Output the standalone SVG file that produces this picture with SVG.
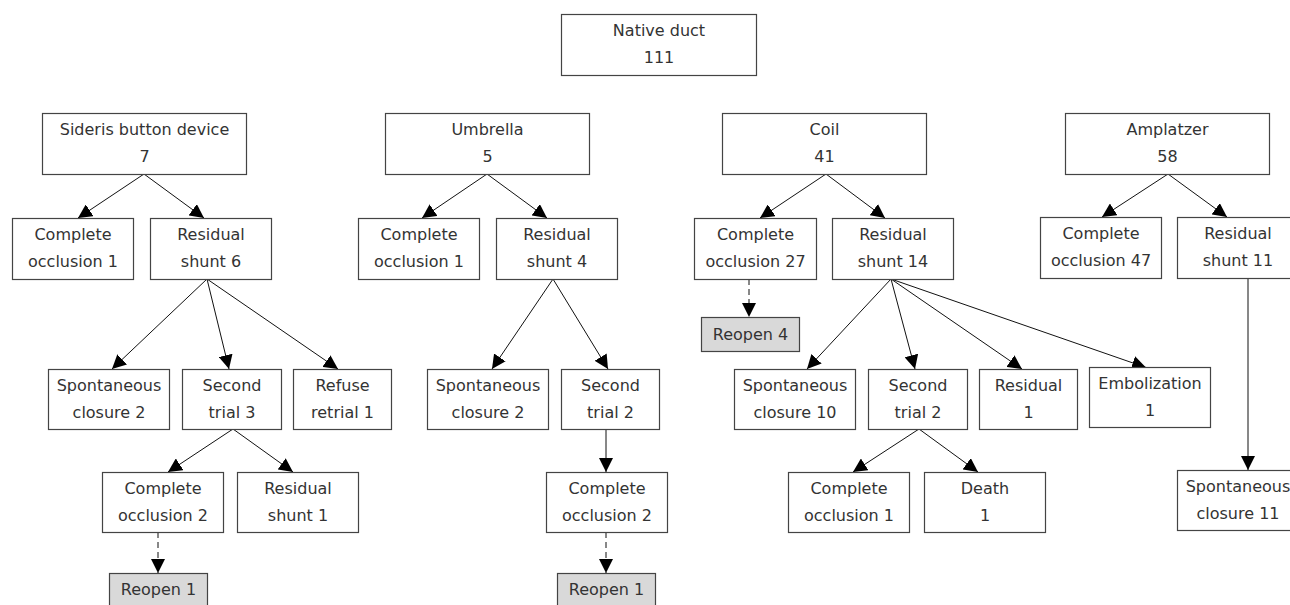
<svg xmlns="http://www.w3.org/2000/svg" width="1290" height="605" viewBox="0 0 1290 605">
<style>
.b{fill:#fff;stroke:#444;stroke-width:1.2}
.g{fill:#d9d9d9;stroke:#444;stroke-width:1.2}
text{font-family:"DejaVu Sans","Liberation Sans",sans-serif;font-size:16px;fill:#333;text-anchor:middle}
.c line{stroke:#111;stroke-width:1;marker-end:url(#ah)}
.c .d{stroke-dasharray:6,4}
</style>
<defs>
<marker id="ah" markerUnits="userSpaceOnUse" markerWidth="14" markerHeight="14" refX="13" refY="6.5" orient="auto" viewBox="0 0 13 13">
<path d="M0,0 L13,6.5 L0,13 z" fill="#000"/>
</marker>
</defs>
<rect width="1290" height="605" fill="#fff"/>
<g class="c">
<line x1="144" y1="174" x2="78" y2="218"/>
<line x1="144" y1="174" x2="204" y2="218"/>
<line x1="207" y1="279" x2="112" y2="369"/>
<line x1="207" y1="279" x2="229" y2="369"/>
<line x1="207" y1="279" x2="338" y2="369"/>
<line x1="233" y1="429" x2="168" y2="472"/>
<line x1="233" y1="429" x2="293" y2="472"/>
<line class="d" x1="158" y1="532" x2="158" y2="573"/>
<line x1="487" y1="174" x2="422" y2="218"/>
<line x1="487" y1="174" x2="547" y2="218"/>
<line x1="553" y1="279" x2="492" y2="369"/>
<line x1="553" y1="279" x2="608" y2="369"/>
<line x1="606" y1="429" x2="606" y2="472"/>
<line class="d" x1="606" y1="532" x2="606" y2="573"/>
<line x1="826" y1="174" x2="760" y2="218"/>
<line x1="826" y1="174" x2="885" y2="218"/>
<line class="d" x1="749" y1="279" x2="749" y2="317"/>
<line x1="891" y1="279" x2="807" y2="369"/>
<line x1="891" y1="279" x2="915" y2="369"/>
<line x1="891" y1="279" x2="1022" y2="369"/>
<line x1="891" y1="279" x2="1146" y2="367.5"/>
<line x1="919" y1="429" x2="853" y2="472"/>
<line x1="919" y1="429" x2="978" y2="472"/>
<line x1="1168" y1="174" x2="1102" y2="217"/>
<line x1="1168" y1="174" x2="1227" y2="217"/>
<line x1="1248" y1="278" x2="1248" y2="470"/>
</g>
<g id="native"><rect class="b" x="561.5" y="14.5" width="195" height="61"/><text x="659" y="36">Native duct</text><text x="659" y="62.5">111</text></g>
<g id="sideris"><rect class="b" x="42.5" y="113.5" width="204" height="61"/><text x="144.5" y="135">Sideris button device</text><text x="144.5" y="161.5">7</text></g>
<g id="umbrella"><rect class="b" x="385.5" y="113.5" width="204" height="61"/><text x="487.5" y="135">Umbrella</text><text x="487.5" y="161.5">5</text></g>
<g id="coil"><rect class="b" x="722.5" y="113.5" width="204" height="61"/><text x="824.5" y="135">Coil</text><text x="824.5" y="161.5">41</text></g>
<g id="amplatzer"><rect class="b" x="1065.5" y="113.5" width="204" height="61"/><text x="1167.5" y="135">Amplatzer</text><text x="1167.5" y="161.5">58</text></g>
<g id="s_co1"><rect class="b" x="12.5" y="218.5" width="121" height="61"/><text x="73" y="240">Complete</text><text x="73" y="266.5">occlusion 1</text></g>
<g id="s_rs6"><rect class="b" x="150.5" y="218.5" width="121" height="61"/><text x="211" y="240">Residual</text><text x="211" y="266.5">shunt 6</text></g>
<g id="u_co1"><rect class="b" x="358.5" y="218.5" width="121" height="61"/><text x="419" y="240">Complete</text><text x="419" y="266.5">occlusion 1</text></g>
<g id="u_rs4"><rect class="b" x="496.5" y="218.5" width="121" height="61"/><text x="557" y="240">Residual</text><text x="557" y="266.5">shunt 4</text></g>
<g id="c_co27"><rect class="b" x="694.5" y="218.5" width="122" height="61"/><text x="755.5" y="240">Complete</text><text x="755.5" y="266.5">occlusion 27</text></g>
<g id="c_rs14"><rect class="b" x="832.5" y="218.5" width="121" height="61"/><text x="893" y="240">Residual</text><text x="893" y="266.5">shunt 14</text></g>
<g id="a_co47"><rect class="b" x="1040.5" y="217.5" width="121" height="61"/><text x="1101" y="239">Complete</text><text x="1101" y="265.5">occlusion 47</text></g>
<g id="a_rs11"><rect class="b" x="1177.5" y="217.5" width="121" height="61"/><text x="1238" y="239">Residual</text><text x="1238" y="265.5">shunt 11</text></g>
<g id="c_reopen4"><rect class="g" x="701.5" y="317.5" width="98" height="34"/><text x="750.5" y="339.5">Reopen 4</text></g>
<g id="s_sp2"><rect class="b" x="48.5" y="369.5" width="121" height="60"/><text x="109" y="391">Spontaneous</text><text x="109" y="417.5">closure 2</text></g>
<g id="s_st3"><rect class="b" x="182.5" y="369.5" width="99" height="60"/><text x="232" y="391">Second</text><text x="232" y="417.5">trial 3</text></g>
<g id="s_rr1"><rect class="b" x="293.5" y="369.5" width="98" height="60"/><text x="342.5" y="391">Refuse</text><text x="342.5" y="417.5">retrial 1</text></g>
<g id="u_sp2"><rect class="b" x="427.5" y="369.5" width="121" height="60"/><text x="488" y="391">Spontaneous</text><text x="488" y="417.5">closure 2</text></g>
<g id="u_st2"><rect class="b" x="561.5" y="369.5" width="98" height="60"/><text x="610.5" y="391">Second</text><text x="610.5" y="417.5">trial 2</text></g>
<g id="c_sp10"><rect class="b" x="734.5" y="369.5" width="121" height="60"/><text x="795" y="391">Spontaneous</text><text x="795" y="417.5">closure 10</text></g>
<g id="c_st2"><rect class="b" x="868.5" y="369.5" width="99" height="60"/><text x="918" y="391">Second</text><text x="918" y="417.5">trial 2</text></g>
<g id="c_r1"><rect class="b" x="979.5" y="369.5" width="98" height="60"/><text x="1028.5" y="391">Residual</text><text x="1028.5" y="417.5">1</text></g>
<g id="c_em1"><rect class="b" x="1089.5" y="367.5" width="121" height="60"/><text x="1150" y="389">Embolization</text><text x="1150" y="415.5">1</text></g>
<g id="s_co2"><rect class="b" x="102.5" y="472.5" width="121" height="60"/><text x="163" y="494">Complete</text><text x="163" y="520.5">occlusion 2</text></g>
<g id="s_rs1"><rect class="b" x="237.5" y="472.5" width="121" height="60"/><text x="298" y="494">Residual</text><text x="298" y="520.5">shunt 1</text></g>
<g id="u_co2"><rect class="b" x="546.5" y="472.5" width="121" height="60"/><text x="607" y="494">Complete</text><text x="607" y="520.5">occlusion 2</text></g>
<g id="c_co1"><rect class="b" x="788.5" y="472.5" width="121" height="60"/><text x="849" y="494">Complete</text><text x="849" y="520.5">occlusion 1</text></g>
<g id="c_d1"><rect class="b" x="924.5" y="472.5" width="121" height="60"/><text x="985" y="494">Death</text><text x="985" y="520.5">1</text></g>
<g id="a_sp11"><rect class="b" x="1177.5" y="470.5" width="121" height="60"/><text x="1238" y="492">Spontaneous</text><text x="1238" y="518.5">closure 11</text></g>
<g id="s_reopen1"><rect class="g" x="109.5" y="573.5" width="98" height="34"/><text x="158.5" y="595">Reopen 1</text></g>
<g id="u_reopen1"><rect class="g" x="557.5" y="573.5" width="98" height="34"/><text x="606.5" y="595">Reopen 1</text></g>
</svg>
